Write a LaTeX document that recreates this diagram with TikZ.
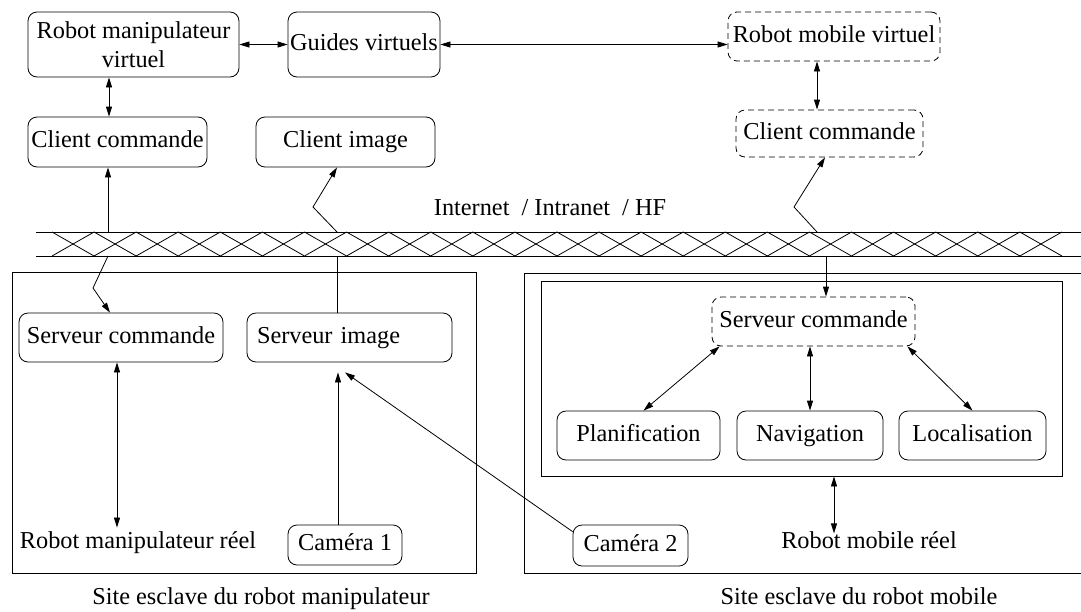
\documentclass[tikz,border=0pt]{standalone}
\usepackage{fontspec}
\setmainfont{Liberation Serif}
\usetikzlibrary{arrows.meta}

\begin{document}
\begin{tikzpicture}[x=1pt,y=-1pt,
  bloc/.style={draw, rounded corners=9pt, line width=0.8pt, inner sep=0pt,
               minimum height=49pt, text centered, text height=16.5pt, text depth=5.5pt,
               font=\fontsize{24.3}{29}\selectfont},
  virt/.style={bloc, dash pattern=on 6pt off 4pt},
  texte/.style={font=\fontsize{24.3}{29}\selectfont, anchor=base},
  cadre/.style={draw, line width=0.8pt},
  lien/.style={line width=0.8pt},
  fleche/.style={lien, -{Triangle[length=10pt,width=6pt]}},
  bifleche/.style={lien, {Triangle[length=10pt,width=6pt]}-{Triangle[length=10pt,width=6pt]}}
]
  \useasboundingbox (0,0) rectangle (1081,611);

  % partie virtuelle
  \node[bloc, minimum width=211pt, minimum height=65pt, align=center, text height=, text depth=] (rmv) at (133.5,44.5) {Robot manipulateur\\virtuel};
  \node[bloc, minimum width=152pt, minimum height=65pt] (gv) at (364,44.5) {Guides virtuels};
  \node[virt, minimum width=212pt] (rmobv) at (834,36.5) {Robot mobile virtuel};
  \node[bloc, minimum width=179pt, minimum height=50pt] (ccg) at (117.5,142) {Client commande};
  \node[bloc, minimum width=179pt, minimum height=50pt] (ci) at (345.5,142) {Client image};
  \node[virt, minimum width=187pt, minimum height=47pt] (ccd) at (829.5,133.5) {Client commande};
  \draw[bifleche] (rmv.east) -- (gv.west);
  \draw[bifleche] (gv.east) -- (gv.east -| rmobv.west);
  \draw[bifleche] ([xshift=-8.5pt]ccg.north) -- ([xshift=-8.5pt]ccg.north |- rmv.south);
  \draw[bifleche] ([xshift=-12.5pt]ccd.north) -- ([xshift=-12.5pt]ccd.north |- rmobv.south);

  % reseau
  \node[texte] (net) at (550,215) {Internet~~/ Intranet~~/ HF};
  \draw[lien] (36,232) -- (1081,232);
  \draw[lien] (36,256) -- (1081,256);
  \foreach \i in {0,...,23} {
    \draw[lien] ({52+42.08*\i},232) -- ({94.08+42.08*\i},256);
    \draw[lien] ({52+42.08*\i},256) -- ({94.08+42.08*\i},232);
  }
  \coordinate (n1) at (108,232);
  \coordinate (n2) at (337,232);
  \coordinate (n3) at (817,232);
  \coordinate (s1) at (108,256);
  \coordinate (s2) at (337.5,256);
  \coordinate (s3) at (826,256);
  \draw[fleche] (n1) -- (n1 |- ccg.south);
  \draw[fleche] (n2) -- ++(-24,-25) -- ([xshift=-8.5pt]ci.south);
  \draw[fleche] (n3) -- ++(-23,-25) -- ([xshift=-4.5pt]ccd.south);

  % site du robot manipulateur
  \draw[cadre] (12,272) rectangle (476,573);
  \node[bloc, minimum width=204pt] (scg) at (121,337.5) {Serveur commande};
  \node[bloc, minimum width=205pt, text width=185pt, align=left] (si) at (349.5,337.5) {Serveur image};
  \node[texte] (rmr) at (138,548) {Robot manipulateur réel};
  \node[bloc, minimum width=114pt, minimum height=40pt] (cam1) at (345,545) {Caméra 1};
  \draw[fleche] (s1) -- ++(-15,32) -- ([xshift=-11pt]scg.north);
  \draw[lien] (s2) -- (s2 |- si.north);
  \draw[bifleche] ([xshift=-4pt]scg.south) -- ([xshift=-4pt]scg.south |- rmr.north);
  \draw[fleche, shorten >=10pt] ([xshift=-7pt]cam1.north) -- ([xshift=-7pt]cam1.north |- si.south);

  % site du robot mobile
  \draw[cadre] (1081,273) -- (524,273) -- (524,573) -- (1081,573);
  \node[cadre, minimum width=521pt, minimum height=195pt] (mobile) at (801.5,378.5) {};
  \node[virt, minimum width=203pt] (scd) at (813.5,321.5) {Serveur commande};
  \node[bloc, minimum width=163pt] (plan) at (638.5,435.5) {Planification};
  \node[bloc, minimum width=146pt] (nav) at (810,435.5) {Navigation};
  \node[bloc, minimum width=147pt] (loc) at (972.5,435.5) {Localisation};
  \node[bloc, minimum width=115pt, minimum height=41pt] (cam2) at (630.5,545.5) {Caméra 2};
  \node[texte] (rmb) at (869,548) {Robot mobile réel};
  \draw[fleche] (s3) -- (s3 |- scd.north);
  \draw[bifleche] ([xshift=8pt]scd.south west) -- ([xshift=5pt]plan.north);
  \draw[bifleche] (nav.north) -- (nav.north |- scd.south);
  \draw[bifleche] ([xshift=-8pt]scd.south east) -- (loc.north);
  \draw[bifleche] ([xshift=32.5pt]mobile.south) -- ++(0,57);
  \draw[fleche] ([yshift=-7pt]cam2.north west) -- ([shift={(-4.5pt,-10pt)}]si.south);

  % legendes
  \node[texte] (capg) at (261,604) {Site esclave du robot manipulateur};
  \node[texte] (capd) at (859,604) {Site esclave du robot mobile};
\end{tikzpicture}
\end{document}
